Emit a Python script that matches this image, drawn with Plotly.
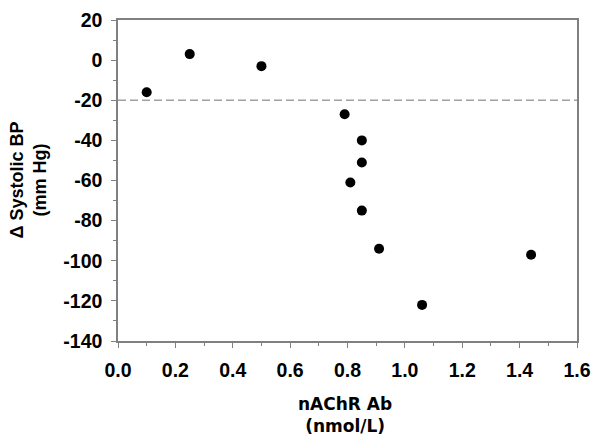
import plotly.graph_objects as go

ab_nmol = [0.10, 0.25, 0.50, 0.79, 0.85, 0.85, 0.81, 0.85, 0.91, 1.06, 1.44]
delta_sbp = [-16, 3, -3, -27, -40, -51, -61, -75, -94, -122, -97]
threshold = -20

y_ticks = [20, 0, -20, -40, -60, -80, -100, -120, -140]
y_ticktext = ["20", "0", "-20", "-40", "-60", "-80", "-100", "-120", "-140"]
x_ticks = [0.0, 0.2, 0.4, 0.6, 0.8, 1.0, 1.2, 1.4, 1.6]
x_ticktext = ["0.0", "0.2", "0.4", "0.6", "0.8", "1.0", "1.2", "1.4", "1.6"]

TICKFONT = "Liberation Sans, Arial, sans-serif"
TITLEFONT = "Liberation Sans, Arial, sans-serif"
AXC = "#808080"

fig = go.Figure()
fig.add_trace(go.Scatter(x=ab_nmol, y=delta_sbp, mode="markers",
                         marker=dict(size=10, color="black"), showlegend=False))
fig.add_shape(type="line", xref="paper", x0=0, x1=1, yref="y", y0=threshold, y1=threshold,
              line=dict(color="#a0a0a0", width=1.5, dash="8px,4px"))

axis_common = dict(showline=True, linecolor=AXC, linewidth=1.5, mirror=True,
                   ticks="outside", ticklen=5, tickcolor=AXC, tickwidth=1,
                   showgrid=False, zeroline=False, automargin=False,
                   tickfont=dict(family=TICKFONT, size=19.5, color="black", weight="bold"))

fig.update_xaxes(range=[0, 1.6], tickvals=x_ticks, ticktext=x_ticktext, ticklabelstandoff=6,
                 minor=dict(ticks="outside", dtick=0.1, ticklen=3, tickcolor=AXC, showgrid=False),
                 **axis_common)
fig.update_yaxes(range=[-140, 20], tickvals=y_ticks, ticktext=y_ticktext, ticklabelstandoff=5,
                 minor=dict(ticks="outside", dtick=10, ticklen=3, tickcolor=AXC, showgrid=False),
                 **axis_common)

fig.add_annotation(text="<b>nAChR Ab<br>(nmol/L)</b>", xref="paper", yref="paper",
                   x=0.4946, y=-0.2305, xanchor="center", yanchor="middle", showarrow=False,
                   font=dict(family="DejaVu Sans, sans-serif", size=17, color="black"))
fig.add_annotation(text="<b>Δ Systolic BP<br>(mm Hg)</b>", xref="paper", yref="paper",
                   x=-0.196, y=0.5, xanchor="center", yanchor="middle", showarrow=False,
                   textangle=-90, font=dict(family=TITLEFONT, size=18, color="black"))

fig.update_layout(width=592, height=438, margin=dict(l=110, r=23, t=12, b=105),
                  plot_bgcolor="white", paper_bgcolor="white")
fig.write_html("out.html")
